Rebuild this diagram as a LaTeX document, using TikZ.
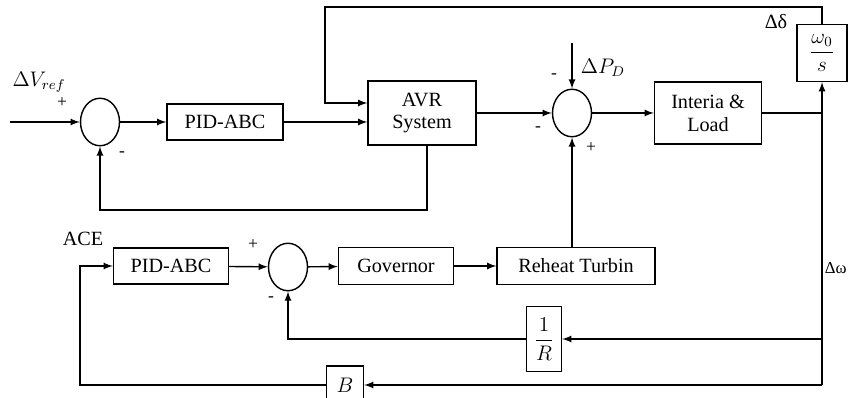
\documentclass[tikz,border=0pt]{standalone}
\usepackage{amsmath}
\usepackage{fontspec}
\setmainfont{Liberation Serif}
\usetikzlibrary{shapes.geometric, arrows, positioning, calc}

\begin{document}
\begin{tikzpicture}[
    x=0.02cm, y=-0.02cm,
    font=\fontsize{11.5}{13}\selectfont,
    block/.style={rectangle, draw, thick, align=center, inner sep=2pt},
    sumjn/.style={ellipse, draw, thick, minimum width=0.78cm, minimum height=0.95cm, inner sep=0pt},
    arrow/.style={->, >=latex, thick},
    line/.style={thick,-},
    sign/.style={font=\fontsize{10}{12}\selectfont, inner sep=0pt}
]
    \useasboundingbox (0,0) rectangle (848,398);

    % Voltage loop
    \coordinate (vin) at (10,122);
    \node[sumjn] (s1) at (100,122) {};
    \node[block, minimum width=2.32cm, minimum height=0.72cm] (pid1) at (225,122) {PID-ABC};
    \node[block, minimum width=2.16cm, minimum height=1.28cm] (avr) at (422,113) {AVR\\System};
    \node[sumjn] (s2) at (572,113) {};
    \node[block, minimum width=2.14cm, minimum height=1.24cm] (load) at (708,113) {Interia \&\\Load};
    \node[block, minimum width=1.0cm, minimum height=1.14cm] (w0) at (822,53) {$\dfrac{\omega_0}{s}$};

    % Frequency loop
    \node[block, minimum width=2.3cm, minimum height=0.72cm] (pid2) at (171,266) {PID-ABC};
    \node[sumjn] (s3) at (288,267) {};
    \node[block, minimum width=2.3cm, minimum height=0.74cm] (gov) at (396,266) {Governor};
    \node[block, minimum width=3.16cm, minimum height=0.74cm] (turb) at (576,266) {Reheat Turbin};
    \node[block, minimum width=0.7cm, minimum height=1.3cm] (rinv) at (544,339) {$\dfrac{1}{R}$};
    \node[block, minimum width=0.74cm, minimum height=0.76cm] (bias) at (345,385) {$B$};

    % Corners
    \coordinate (pd) at (572,43);
    \coordinate (tl) at (325,7);
    \coordinate (fb) at (100,210);
    \coordinate (jn) at (822,113);
    \coordinate (rb) at (822,385);
    \coordinate (ll) at (80,385);

    % Connections
    \draw[arrow] (vin) -- (s1);
    \draw[arrow] (s1) -- (pid1);
    \draw[arrow] (pid1.east) -- (avr.west |- pid1.east);
    \draw[arrow] (avr) -- (s2);
    \draw[arrow] (s2) -- (load);
    \draw[arrow] (pd) -- (s2);
    \draw[line] (load.east) -- (jn) -- (rb);
    \draw[arrow] (jn) -- (w0.south);
    \draw[arrow] (w0.north) |- (tl) |- ($(avr.west)+(0,-10)$);
    \draw[arrow] ($(avr.south)+(5,0)$) |- (fb) -- (s1.south);
    \draw[arrow] (turb.north -| s2) -- (s2.south);
    \draw[arrow] (pid2) -- (s3);
    \draw[arrow] (s3) -- (gov);
    \draw[arrow] (gov) -- (turb);
    \draw[arrow] (jn |- rinv) -- (rinv);
    \draw[arrow] (rinv) -| (s3.south);
    \draw[arrow] (rb) -- (bias);
    \draw[arrow] (bias) -- (ll) |- (pid2);

    % Labels
    \node at (39,82) {$\Delta V_{ref}$};
    \node[sign] at (62,103) {+};
    \node[sign] at (122,154) {-};
    \node[sign] at (554,76) {-};
    \node[sign] at (538,129) {-};
    \node[sign] at (591,148) {+};
    \node at (603,68) {$\Delta P_D$};
    \node at (776,22) {Δδ};
    \node at (83,239) {ACE};
    \node[sign] at (253,245) {+};
    \node[sign] at (271,299) {-};
    \node[anchor=east, inner sep=0pt, font=\fontsize{9.5}{11}\selectfont] at (847,268) {Δω};
\end{tikzpicture}
\end{document}
